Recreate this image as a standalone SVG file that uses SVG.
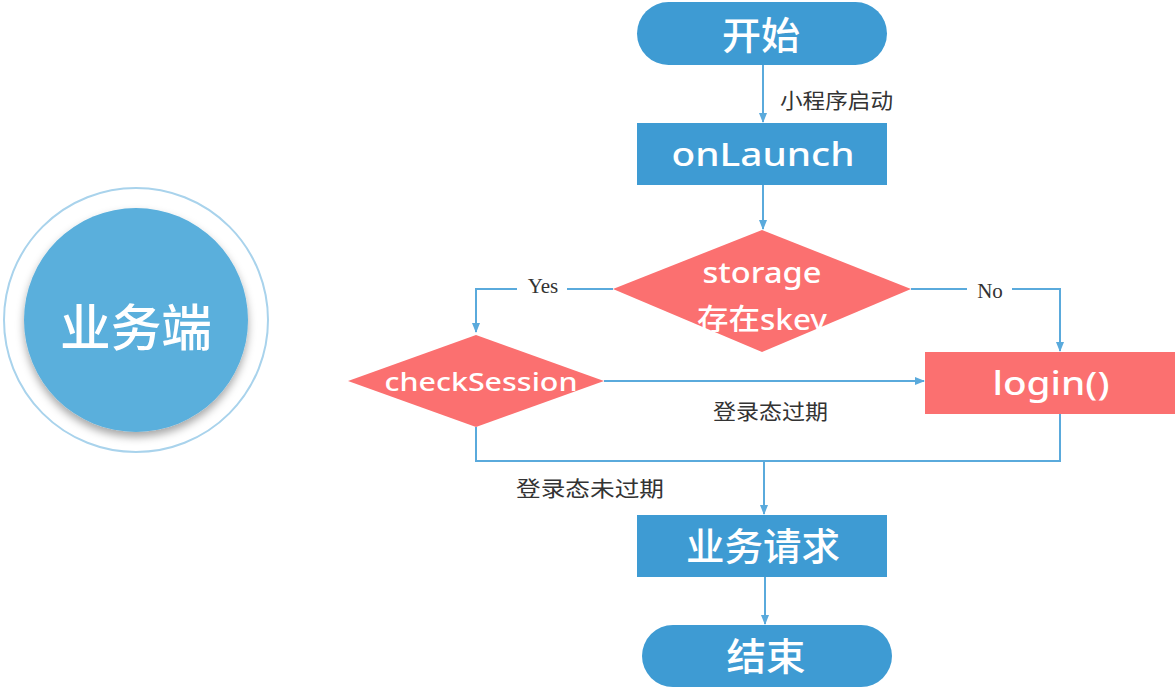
<svg xmlns="http://www.w3.org/2000/svg" width="1176" height="689" viewBox="0 0 1176 689">
<style>
.blue{fill:#3e9bd3}
.red{fill:#fb7070}
.t{fill:#fff;font-family:"Noto Sans","Noto Sans CJK SC",sans-serif;font-weight:500;text-anchor:middle}
.lbl{fill:#333;font-family:"Noto Sans CJK SC",sans-serif;font-size:21px}
.yn{fill:#333;font-family:"Liberation Serif",serif;font-size:21px;text-anchor:middle}
.c{fill:none;stroke:#5aaadc;stroke-width:2}
</style>
<defs>
<marker id="ah" viewBox="0 0 10 10" refX="9" refY="5" markerWidth="5" markerHeight="5" orient="auto"><path d="M0,1 L10,5 L0,9 z" fill="#5aaadc"/></marker>
<filter id="sh" x="-20%" y="-20%" width="140%" height="150%"><feDropShadow dx="0" dy="5" stdDeviation="4" flood-color="#000" flood-opacity="0.35"/></filter>
<clipPath id="dclip"><rect x="600" y="220" width="330" height="112"/></clipPath>
</defs>
<g id="side">
<circle cx="136" cy="320" r="132" fill="#fff" stroke="#a9d3ec" stroke-width="2"/>
<circle cx="136" cy="320" r="112" fill="#5aafdc" filter="url(#sh)"/>
<text class="t" x="136" y="346" font-size="50" textLength="152" lengthAdjust="spacingAndGlyphs">业务端</text>
</g>
<g id="connectors">
<line class="c" x1="763" y1="65" x2="763" y2="122" marker-end="url(#ah)"/>
<text class="lbl" x="780" y="108" textLength="113" lengthAdjust="spacingAndGlyphs">小程序启动</text>
<line class="c" x1="763" y1="185" x2="763" y2="229" marker-end="url(#ah)"/>
<polyline class="c" points="613,289 567,289"/>
<polyline class="c" points="517,289 476,289 476,332" marker-end="url(#ah)"/>
<text class="yn" x="543" y="293">Yes</text>
<polyline class="c" points="911,289 967,289"/>
<polyline class="c" points="1012,289 1060,289 1060,351" marker-end="url(#ah)"/>
<text class="yn" x="990" y="298">No</text>
<line class="c" x1="604" y1="381" x2="924" y2="381" marker-end="url(#ah)"/>
<text class="lbl" x="713" y="419" textLength="115" lengthAdjust="spacingAndGlyphs">登录态过期</text>
<polyline class="c" points="476,427 476,461 1060,461 1060,414"/>
<line class="c" x1="764" y1="461" x2="764" y2="514" marker-end="url(#ah)"/>
<text class="lbl" x="516" y="496" textLength="148" lengthAdjust="spacingAndGlyphs">登录态未过期</text>
<line class="c" x1="765" y1="577" x2="765" y2="624" marker-end="url(#ah)"/>
</g>
<g id="start">
<rect class="blue" x="637" y="2" width="250" height="63" rx="31.5"/>
<text class="t" x="761" y="49" font-size="38" textLength="78" lengthAdjust="spacingAndGlyphs">开始</text>
</g>
<g id="onlaunch">
<rect class="blue" x="637" y="123" width="250" height="62"/>
<text class="t" x="763" y="166" font-size="32" textLength="183" lengthAdjust="spacingAndGlyphs">onLaunch</text>
</g>
<g id="storage">
<polygon class="red" points="762,230 911,289 762,352 613,289"/>
<g clip-path="url(#dclip)">
<text class="t" x="762" y="283" font-size="28" textLength="119" lengthAdjust="spacingAndGlyphs">storage</text>
<text class="t" x="762" y="330" font-size="29" textLength="130" lengthAdjust="spacingAndGlyphs">存在skey</text>
</g>
</g>
<g id="checksession">
<polygon class="red" points="476,335 604,381 476,427 348,381"/>
<text class="t" x="481" y="391" font-size="26" textLength="193" lengthAdjust="spacingAndGlyphs">checkSession</text>
</g>
<g id="login">
<rect class="red" x="925" y="352" width="250" height="62"/>
<text class="t" x="1051" y="395" font-size="32" textLength="117" lengthAdjust="spacingAndGlyphs">login()</text>
</g>
<g id="request">
<rect class="blue" x="637" y="515" width="250" height="62"/>
<text class="t" x="763" y="560" font-size="38" textLength="154" lengthAdjust="spacingAndGlyphs">业务请求</text>
</g>
<g id="end">
<rect class="blue" x="642" y="625" width="250" height="62" rx="31"/>
<text class="t" x="766" y="670" font-size="38" textLength="79" lengthAdjust="spacingAndGlyphs">结束</text>
</g>
</svg>
